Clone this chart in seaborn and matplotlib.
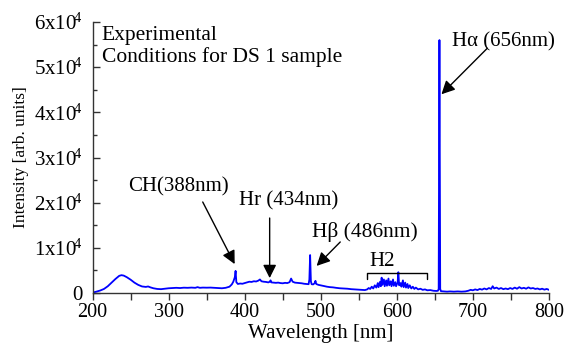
import matplotlib
matplotlib.use("Agg")
import matplotlib.pyplot as plt
import seaborn as sns
import pandas as pd
from matplotlib.ticker import MultipleLocator, FixedLocator, FixedFormatter

# Emission spectrum: wavelength [nm] and intensity [arb. units]
wavelength = [
    200, 205, 210, 215, 220, 225, 230, 235, 238, 241, 245, 250, 255, 260, 265,
    270, 273, 276, 280, 285, 290, 295, 300, 305, 310, 315, 320, 325, 330, 335,
    338, 341, 345, 350, 355, 360, 365, 370, 375, 380, 383, 385, 387, 388, 389,
    391, 394, 397, 400, 403, 406, 409, 412, 415, 418, 420, 422, 425, 428, 431,
    433, 434, 435, 438, 441, 444, 447, 450, 453, 456, 459, 461, 463, 466, 469,
    472, 475, 478, 481, 484, 485, 486, 487, 488, 490, 492, 493, 494, 497, 500,
    504, 508, 512, 516, 520, 525, 530, 535, 540, 545, 550, 555, 558, 561, 563,
    565, 567, 569, 571, 573, 575, 576, 578, 579, 580, 581, 583, 584, 586, 587,
    589, 590, 592, 593, 595, 596, 598, 599, 601, 602, 603, 605, 606, 608, 609,
    611, 612, 614, 615, 617, 619, 621, 623, 625, 628, 631, 634, 637, 640, 644,
    648, 652, 654, 655, 656, 657, 658, 662, 666, 670, 675, 680, 685, 690, 694,
    697, 700, 703, 706, 709, 712, 715, 718, 721, 724, 726, 728, 731, 734, 737,
    740, 743, 746, 749, 752, 755, 758, 761, 764, 767, 770, 773, 776, 779, 782,
    785, 788, 791, 794, 797, 800,
]
intensity = [
    100, 300, 550, 900, 1500, 2300, 3100, 3800, 3950, 3850, 3500, 2950, 2300, 1800, 1450,
    1350, 1450, 1250, 1050, 900, 850, 950, 1050, 1100, 1150, 1100, 1180, 1150, 1200, 1150,
    1300, 1150, 1200, 1180, 1200, 1150, 1100, 1050, 1150, 1400, 1900, 2500, 3500, 4900, 2400,
    2000, 2100, 2050, 2200, 2350, 2500, 2450, 2600, 2550, 2750, 3000, 2600, 2500, 2450, 2350,
    2500, 2800, 2350, 2300, 2250, 2300, 2200, 2150, 2250, 2200, 2400, 3200, 2500, 2300, 2250,
    2200, 2150, 2050, 2000, 1950, 3000, 8400, 2600, 1950, 1900, 2200, 2700, 2000, 1800, 1700,
    1550, 1400, 1300, 1250, 1150, 1050, 1000, 950, 850, 800, 750, 700, 650, 800, 1100,
    900, 1400, 1000, 1700, 1200, 2200, 1300, 2500, 1500, 3400, 1800, 3000, 1500, 2800, 1600,
    3200, 1700, 2600, 1500, 3000, 1600, 2400, 1500, 2300, 4600, 1700, 2200, 1400, 2800, 1300,
    2300, 1200, 2000, 1100, 1700, 1000, 1400, 900, 1200, 800, 950, 700, 800, 600, 650,
    500, 450, 500, 900, 56000, 900, 400, 350, 300, 350, 300, 350, 300, 350, 500,
    700, 600, 800, 650, 900, 750, 1000, 800, 1100, 900, 1500, 1000, 1200, 900, 1100,
    850, 1000, 850, 1100, 900, 1200, 950, 1300, 1000, 1150, 950, 1250, 1000, 1100, 900,
    1000, 800, 950, 750, 900, 700,
]

y_ticks = [0, 10000, 20000, 30000, 40000, 50000, 60000]
y_tick_labels = ["0", "1x10$^{\\!4}$", "2x10$^{\\!4}$", "3x10$^{\\!4}$",
                 "4x10$^{\\!4}$", "5x10$^{\\!4}$", "6x10$^{\\!4}$"]
x_ticks = [200, 300, 400, 500, 600, 700, 800]

spectrum = pd.DataFrame({"wavelength": wavelength, "intensity": intensity})

sns.set_theme(style="ticks")
plt.rcParams["font.family"] = ["Liberation Serif", "DejaVu Serif"]
plt.rcParams["mathtext.fontset"] = "custom"
plt.rcParams["mathtext.rm"] = "Liberation Serif"
plt.rcParams["mathtext.default"] = "regular"
plt.rcParams["text.color"] = "black"

fig = plt.figure(figsize=(5.68, 3.45), dpi=100)
ax = fig.add_axes([0.163, 0.1507, 0.8035, 0.7855])

sns.lineplot(data=spectrum, x="wavelength", y="intensity", ax=ax,
             color="#0000ff", linewidth=1.3, sort=True)

ax.set_xlim(200, 800)
ax.set_ylim(0, 60000)
sns.despine(ax=ax)
for side in ("left", "bottom"):
    ax.spines[side].set_color("#333333")
    ax.spines[side].set_linewidth(1.0)

ax.xaxis.set_major_locator(FixedLocator(x_ticks))
ax.xaxis.set_minor_locator(MultipleLocator(50))
ax.yaxis.set_major_locator(FixedLocator(y_ticks))
ax.yaxis.set_major_formatter(FixedFormatter(y_tick_labels))
ax.yaxis.set_minor_locator(MultipleLocator(5000))
ax.tick_params(axis="x", which="both", direction="out", length=5, width=1,
               color="#333333", labelsize=14.5, pad=2.5, labelcolor="black")
ax.tick_params(axis="y", which="major", direction="in", length=5, width=1,
               color="#333333", labelsize=15, pad=7, labelcolor="black")
ax.tick_params(axis="y", which="minor", direction="in", length=3, width=1,
               color="#333333")

ax.set_xlabel("Wavelength [nm]", fontsize=15, labelpad=1, color="black")
ax.set_ylabel("Intensity [arb. units]", fontsize=12.5, labelpad=4, color="black")

ax.text(212, 54600, "Experimental\nConditions for DS 1 sample",
        fontsize=15.5, va="center", ha="left", linespacing=1.1, color="black")

arrow = dict(arrowstyle="-|>", color="black", lw=1.0, mutation_scale=20,
             shrinkA=0, shrinkB=0)

ax.text(313, 23500, "CH(388nm)", fontsize=15, ha="center", va="center", color="black")
ax.annotate("", xy=(386.8, 6400), xytext=(344.8, 20150), arrowprops=arrow)

ax.text(458, 20300, "Hr (434nm)", fontsize=15, ha="center", va="center", color="black")
ax.annotate("", xy=(432.8, 3300), xytext=(432.8, 16600), arrowprops=arrow)

ax.text(489, 13500, "H\u03b2 (486nm)", fontsize=15.5, ha="left", va="center", color="black")
ax.annotate("", xy=(494.5, 6000), xytext=(525.6, 11300), arrowprops=arrow)

ax.text(672, 55600, "H\u03b1 (656nm)", fontsize=15, ha="left", va="center", color="black")
ax.annotate("", xy=(658.6, 44000), xytext=(719, 54200), arrowprops=arrow)

ax.text(581, 6900, "H2", fontsize=15, ha="center", va="center", color="black")
ax.plot([561, 561, 640, 640], [3000, 4450, 4450, 3000], color="black", lw=1.0)

fig.savefig("out.png", dpi=100)
